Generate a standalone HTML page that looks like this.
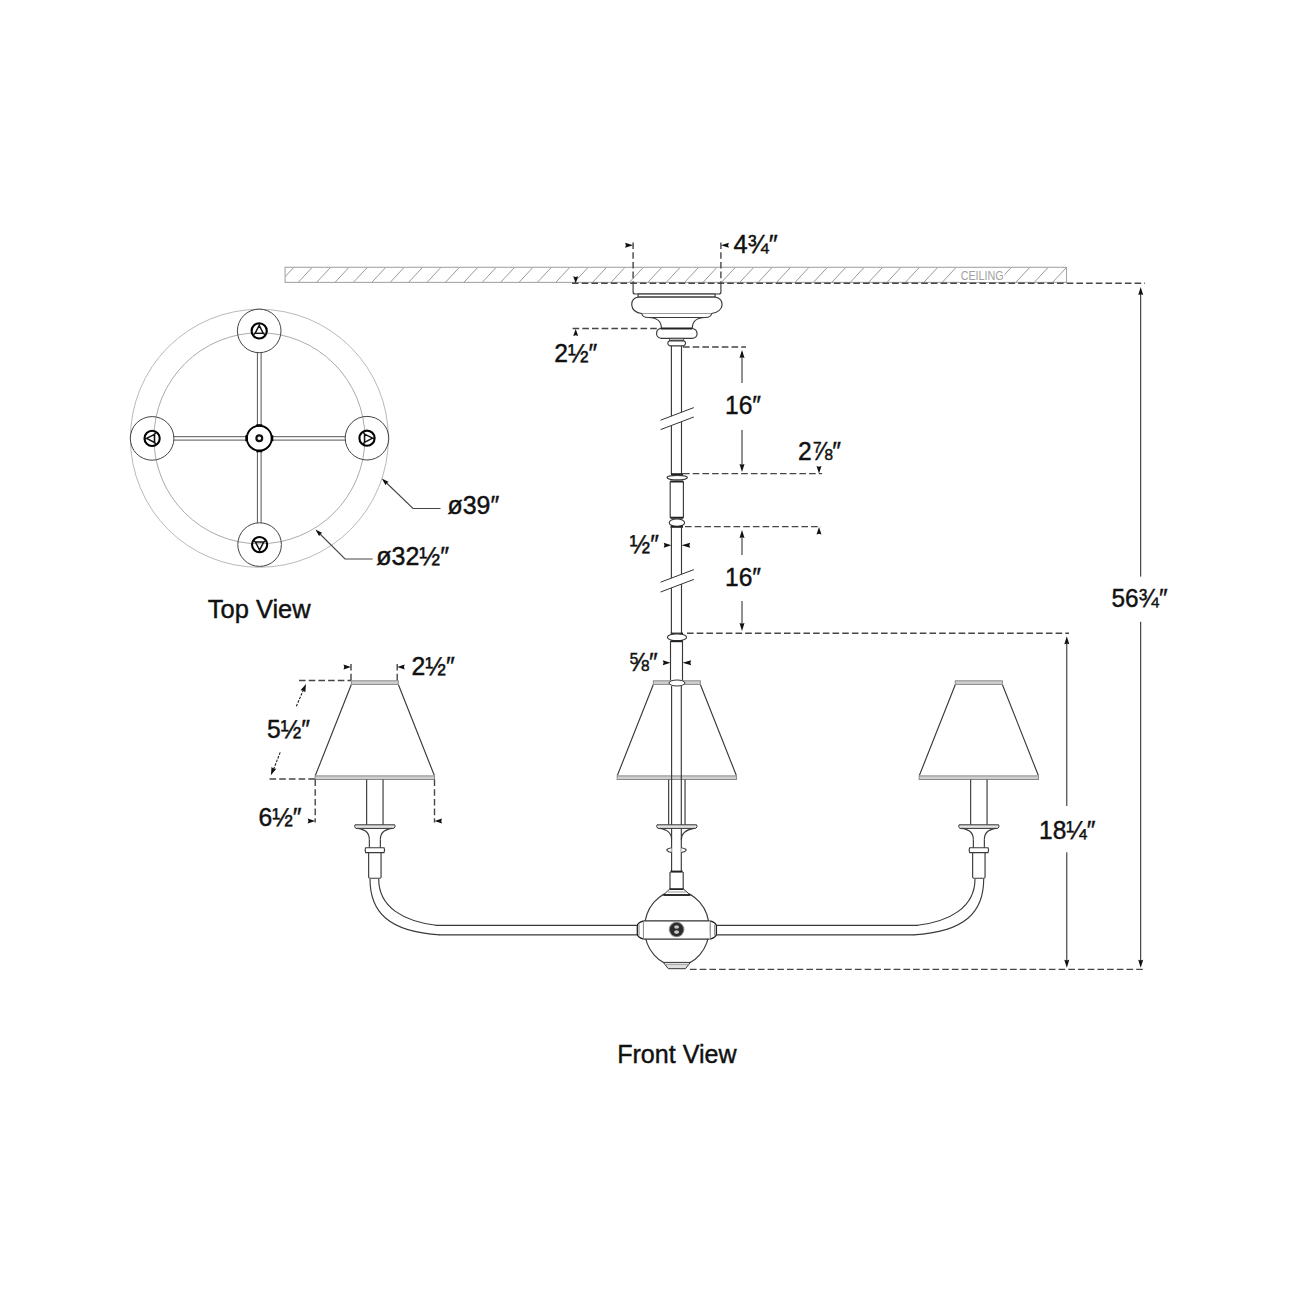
<!DOCTYPE html>
<html><head><meta charset="utf-8">
<style>
html,body{margin:0;padding:0;background:#fff;width:1300px;height:1300px;overflow:hidden}
svg{display:block}
text{font-family:"Liberation Sans",sans-serif;fill:#111;stroke:#111;stroke-width:0.45}
</style></head><body>
<svg width="1300" height="1300" viewBox="0 0 1300 1300">
<rect width="1300" height="1300" fill="#fff"/>

<g id="topview">
<circle cx="259.4" cy="438.3" r="129" fill="none" stroke="#bababa" stroke-width="1"/>
<circle cx="259.4" cy="438.3" r="105.5" fill="none" stroke="#ababab" stroke-width="1"/>
<g stroke="#555" stroke-width="1" fill="none"><path d="M257.4,352.7 V426 M261.1,352.7 V426"/><path d="M257.4,450.5 V522.8 M261.1,450.5 V522.8"/><path d="M173.9,436.7 H247 M173.9,440.1 H247"/><path d="M271.8,436.7 H345.2 M271.8,440.1 H345.2"/></g>
<g transform="translate(259.2,330.9) rotate(0)"><circle r="21.8" fill="none" stroke="#444" stroke-width="1"/><circle r="7.6" fill="none" stroke="#000" stroke-width="2.1"/><path d="M0,-5.6 L-4.1,2.5 L4.1,2.5 Z M0,-5.6 V-7.6 M-4.1,2.5 L-6.3,4.1 M4.1,2.5 L6.3,4.1" fill="none" stroke="#111" stroke-width="1.45" stroke-linejoin="round"/></g>
<g transform="translate(152.1,438.4) rotate(-90)"><circle r="21.8" fill="none" stroke="#444" stroke-width="1"/><circle r="7.6" fill="none" stroke="#000" stroke-width="2.1"/><path d="M0,-5.6 L-4.1,2.5 L4.1,2.5 Z M0,-5.6 V-7.6 M-4.1,2.5 L-6.3,4.1 M4.1,2.5 L6.3,4.1" fill="none" stroke="#111" stroke-width="1.45" stroke-linejoin="round"/></g>
<g transform="translate(367,438.2) rotate(90)"><circle r="21.8" fill="none" stroke="#444" stroke-width="1"/><circle r="7.6" fill="none" stroke="#000" stroke-width="2.1"/><path d="M0,-5.6 L-4.1,2.5 L4.1,2.5 Z M0,-5.6 V-7.6 M-4.1,2.5 L-6.3,4.1 M4.1,2.5 L6.3,4.1" fill="none" stroke="#111" stroke-width="1.45" stroke-linejoin="round"/></g>
<g transform="translate(259.6,544.6) rotate(180)"><circle r="21.8" fill="none" stroke="#444" stroke-width="1"/><circle r="7.6" fill="none" stroke="#000" stroke-width="2.1"/><path d="M0,-5.6 L-4.1,2.5 L4.1,2.5 Z M0,-5.6 V-7.6 M-4.1,2.5 L-6.3,4.1 M4.1,2.5 L6.3,4.1" fill="none" stroke="#111" stroke-width="1.45" stroke-linejoin="round"/></g>
<circle cx="259.3" cy="438.2" r="12.4" fill="#fff" stroke="#000" stroke-width="1.9"/>
<circle cx="259.3" cy="438.2" r="2.9" fill="none" stroke="#111" stroke-width="2.2"/>
<path d="M256.3,424.2 h6 v2.4 h-6 z M256.3,449.8 h6 v2.4 h-6 z M245.3,435.2 v6 h2.4 v-6 z M270.9,435.2 v6 h2.4 v-6 z" fill="#000"/>
<g stroke="#444" stroke-width="1.1" fill="none"><path d="M384,480.5 L413,508.5 H440.5"/><path d="M317.5,531.5 L345,559 H372.6"/></g>
<path d="M0,0 L-7.5,-2.3 L-6.75,0 L-7.5,2.3 Z" transform="translate(381.8,478.4) rotate(224)" fill="#111"/>
<path d="M0,0 L-7.5,-2.3 L-6.75,0 L-7.5,2.3 Z" transform="translate(315.4,529.4) rotate(224)" fill="#111"/>
<text x="447.5" y="514.2" font-size="26.5" textLength="51.7" lengthAdjust="spacingAndGlyphs" >ø39″</text>
<text x="376.3" y="565.2" font-size="26.5" textLength="72.7" lengthAdjust="spacingAndGlyphs" >ø32½″</text>
<text x="207.8" y="617.7" font-size="26.6" textLength="102.8" lengthAdjust="spacingAndGlyphs" >Top View</text>
</g>
<g id="frontview">
<clipPath id="ceilclip"><rect x="285.1" y="267.3" width="781.4" height="15.1"/></clipPath>
<path d="M261.4,282.4 L275.4,267.3 M279.8,282.4 L293.8,267.3 M298.2,282.4 L312.2,267.3 M316.6,282.4 L330.6,267.3 M335.0,282.4 L349.0,267.3 M353.4,282.4 L367.4,267.3 M371.8,282.4 L385.8,267.3 M390.2,282.4 L404.2,267.3 M408.6,282.4 L422.6,267.3 M427.0,282.4 L441.0,267.3 M445.4,282.4 L459.4,267.3 M463.8,282.4 L477.8,267.3 M482.2,282.4 L496.2,267.3 M500.6,282.4 L514.6,267.3 M519.0,282.4 L533.0,267.3 M537.4,282.4 L551.4,267.3 M555.8,282.4 L569.8,267.3 M574.2,282.4 L588.2,267.3 M592.6,282.4 L606.6,267.3 M611.0,282.4 L625.0,267.3 M629.4,282.4 L643.4,267.3 M647.8,282.4 L661.8,267.3 M666.2,282.4 L680.2,267.3 M684.6,282.4 L698.6,267.3 M703.0,282.4 L717.0,267.3 M721.4,282.4 L735.4,267.3 M739.8,282.4 L753.8,267.3 M758.2,282.4 L772.2,267.3 M776.6,282.4 L790.6,267.3 M795.0,282.4 L809.0,267.3 M813.4,282.4 L827.4,267.3 M831.8,282.4 L845.8,267.3 M850.2,282.4 L864.2,267.3 M868.6,282.4 L882.6,267.3 M887.0,282.4 L901.0,267.3 M905.4,282.4 L919.4,267.3 M923.8,282.4 L937.8,267.3 M942.2,282.4 L956.2,267.3 M960.6,282.4 L974.6,267.3 M979.0,282.4 L993.0,267.3 M997.4,282.4 L1011.4,267.3 M1015.8,282.4 L1029.8,267.3 M1034.2,282.4 L1048.2,267.3 M1052.6,282.4 L1066.6,267.3 M1071.0,282.4 L1085.0,267.3" stroke="#9a9a9a" stroke-width="1" clip-path="url(#ceilclip)"/>
<rect x="285.1" y="267.3" width="781.4" height="15.1" fill="none" stroke="#a6a6a6" stroke-width="1.1"/>
<rect x="959.5" y="268" width="45" height="13.8" fill="#fff"/>
<text x="960.7" y="279.5" font-size="12.2" textLength="43" lengthAdjust="spacingAndGlyphs" style="fill:#a0a0a0;stroke:none">CEILING</text>
<path d="M633.1,283 V292 Q633.1,294 635.1,294 H718.9 Q720.9,294 720.9,292 V283" stroke="#3a3a3a" stroke-width="1.15" fill="#fff"/>
<rect x="638.1" y="294" width="77" height="3.1" stroke="#3a3a3a" stroke-width="1.15" fill="#fff"/>
<path d="M638.1,297.1 H715.1 C725,298 725,312 711.6,313.5 H641.7 C629,312 629,298 638.1,297.1 Z" stroke="#3a3a3a" stroke-width="1.15" fill="#fff"/>
<path d="M641.7,313.5 Q642.5,317.5 648,317.5 H705.7 Q711,317.5 711.6,313.5" stroke="#3a3a3a" stroke-width="1.15" fill="#fff"/>
<path d="M648.5,317.5 C656,317.5 661.4,320 661.4,328.5 M705.2,317.5 C697.7,317.5 692.3,320 692.3,328.5" stroke="#3a3a3a" stroke-width="1.15" fill="none"/>
<path d="M660.7,328.5 H692.1 C698,329 699,337 693,338.3 H660.7 C654.7,337 655.7,329 660.7,328.5 Z" stroke="#3a3a3a" stroke-width="1.15" fill="#fff"/>
<path d="M660.7,328.6 H692.1" stroke="#222" stroke-width="2"/>
<rect x="669.6" y="338.3" width="14.1" height="2.6" fill="#b8b8b8" stroke="#444" stroke-width="0.8"/>
<path d="M669.6,340.9 H683.7 C686.2,341.5 686.2,345 683.5,345.8 H669.8 C667.2,345 667.2,341.5 669.6,340.9 Z" stroke="#3a3a3a" stroke-width="1.15" fill="#fff"/>
<path d="M671.4,345.8 V474 M681.5,345.8 V474" stroke="#3a3a3a" stroke-width="1.15" fill="none"/>
<path d="M671,474.2 H683" stroke="#222" stroke-width="2"/>
<ellipse cx="677.2" cy="477.6" rx="10.2" ry="2.3" stroke="#3a3a3a" stroke-width="1.15" fill="#fff"/>
<path d="M670.2,481.5 V517.8 M683.4,481.5 V517.8" stroke="#3a3a3a" stroke-width="1.15" fill="none"/>
<path d="M670.2,481.6 H683.4 M670.2,517.8 H683.4" stroke="#222" stroke-width="2"/>
<ellipse cx="676.9" cy="522.7" rx="7.7" ry="3.8" stroke="#3a3a3a" stroke-width="1.15" fill="#fff"/>
<path d="M670.5,526.8 H683" stroke="#222" stroke-width="2"/>
<path d="M671.4,527 V633 M681.5,527 V633" stroke="#3a3a3a" stroke-width="1.15" fill="none"/>
<path d="M670.8,633.6 H683" stroke="#222" stroke-width="2"/>
<ellipse cx="677" cy="637.3" rx="9.6" ry="3.5" stroke="#3a3a3a" stroke-width="1.15" fill="#fff"/>
<path d="M670.5,641.2 H683" stroke="#222" stroke-width="2"/>
<path d="M670.5,641.2 V680.5 M682.5,641.2 V680.5" stroke="#3a3a3a" stroke-width="1.15" fill="none"/>
<path d="M660.6,420.2 L693.8,407.59999999999997 L693.8,417.0 L660.6,429.6 Z" fill="#fff" stroke="none"/><path d="M660.6,420.2 L693.8,407.59999999999997 M660.6,429.6 L693.8,417.0" stroke="#333" stroke-width="1"/>
<path d="M660.6,582.2 L693.8,569.6 L693.8,579.4 L660.6,592 Z" fill="#fff" stroke="none"/><path d="M660.6,582.2 L693.8,569.6 M660.6,592 L693.8,579.4" stroke="#333" stroke-width="1"/>
<path d="M653.35,684.5 L617.35,775.5 M700.35,684.5 L736.35,775.5" stroke="#3a3a3a" stroke-width="1.15" fill="none"/><rect x="653.35" y="680.8" width="47" height="3.6" fill="#cfcfcf" stroke="#8a8a8a" stroke-width="1"/><rect x="617.15" y="775.9" width="119.4" height="3.6" fill="#cfcfcf" stroke="#8a8a8a" stroke-width="1"/>
<path d="M351.35,684.5 L315.35,775.5 M398.35,684.5 L434.35,775.5" stroke="#3a3a3a" stroke-width="1.15" fill="none"/><rect x="351.35" y="680.8" width="47" height="3.6" fill="#cfcfcf" stroke="#8a8a8a" stroke-width="1"/><rect x="315.15000000000003" y="775.9" width="119.4" height="3.6" fill="#cfcfcf" stroke="#8a8a8a" stroke-width="1"/>
<path d="M955.35,684.5 L919.35,775.5 M1002.35,684.5 L1038.35,775.5" stroke="#3a3a3a" stroke-width="1.15" fill="none"/><rect x="955.35" y="680.8" width="47" height="3.6" fill="#cfcfcf" stroke="#8a8a8a" stroke-width="1"/><rect x="919.15" y="775.9" width="119.4" height="3.6" fill="#cfcfcf" stroke="#8a8a8a" stroke-width="1"/>
<ellipse cx="677" cy="683" rx="8" ry="3" fill="#fff" stroke="#333" stroke-width="1"/>
<path d="M671.6,686 V871.6 M681.3,686 V871.6" stroke="#3a3a3a" stroke-width="1.15" fill="none"/>
<path d="M668.65,779.5 V824.8 M685.0500000000001,779.5 V824.8" stroke="#3a3a3a" stroke-width="1.15" fill="none"/><path d="M657.0500000000001,824.8 H696.65 Q697.85,826.5999999999999 695.85,828.4 H657.85 Q655.85,826.5999999999999 657.0500000000001,824.8 Z" fill="#e2e2e2" stroke="#333" stroke-width="1"/><path d="M659.85,828.4 C667.85,829.8 671.6,832.8 671.6,839.8 M693.85,828.4 C685.85,829.8 681.3,832.8 681.3,839.8" stroke="#3a3a3a" stroke-width="1.15" fill="none"/>
<path d="M671.6,847.8 Q666,849 667,850.5 Q668,852 671.6,852.5 M681.3,847.8 Q687,849 686,850.5 Q685,852 681.3,852.5" stroke="#3a3a3a" stroke-width="1.15" fill="#fff"/>
<path d="M670.4,871.6 H682.7" stroke="#222" stroke-width="2"/>
<path d="M670,872 V889 M683.2,872 V889" stroke="#3a3a3a" stroke-width="1.15" fill="none"/>
<path d="M366.65000000000003,779.5 V824.8 M383.05,779.5 V824.8" stroke="#3a3a3a" stroke-width="1.15" fill="none"/><path d="M355.05,824.8 H394.65000000000003 Q395.85,826.5999999999999 393.85,828.4 H355.85 Q353.85,826.5999999999999 355.05,824.8 Z" fill="#e2e2e2" stroke="#333" stroke-width="1"/><path d="M357.85,828.4 C365.85,829.8 369.35,832.8 369.35,839.8 M391.85,828.4 C383.85,829.8 380.35,832.8 380.35,839.8" stroke="#3a3a3a" stroke-width="1.15" fill="none"/><path d="M365.65000000000003,847.7 H384.05 Q385.25,850.2 384.05,852.6 H365.65000000000003 Q364.45000000000005,850.2 365.65000000000003,847.7 Z" stroke="#3a3a3a" stroke-width="1.15" fill="#fff"/><path d="M369.35,839.8 V847.7 M380.35,839.8 V847.7" stroke="#3a3a3a" stroke-width="1.15" fill="none"/><path d="M368.65000000000003,852.6 V877 Q368.65000000000003,878.2 369.85,878.2 H379.85 Q381.05,878.2 381.05,877 V852.6" stroke="#3a3a3a" stroke-width="1.15" fill="none"/><path d="M370.0,879 C370.0,911.6 388.0,931.8 440.0,934.9 M378.7,879 C378.7,907.7 404.2,921.2 436.0,925.3" stroke="#3a3a3a" stroke-width="1.15" fill="none"/>
<path d="M970.65,779.5 V824.8 M987.0500000000001,779.5 V824.8" stroke="#3a3a3a" stroke-width="1.15" fill="none"/><path d="M959.0500000000001,824.8 H998.65 Q999.85,826.5999999999999 997.85,828.4 H959.85 Q957.85,826.5999999999999 959.0500000000001,824.8 Z" fill="#e2e2e2" stroke="#333" stroke-width="1"/><path d="M961.85,828.4 C969.85,829.8 973.35,832.8 973.35,839.8 M995.85,828.4 C987.85,829.8 984.35,832.8 984.35,839.8" stroke="#3a3a3a" stroke-width="1.15" fill="none"/><path d="M969.65,847.7 H988.0500000000001 Q989.25,850.2 988.0500000000001,852.6 H969.65 Q968.45,850.2 969.65,847.7 Z" stroke="#3a3a3a" stroke-width="1.15" fill="#fff"/><path d="M973.35,839.8 V847.7 M984.35,839.8 V847.7" stroke="#3a3a3a" stroke-width="1.15" fill="none"/><path d="M972.65,852.6 V877 Q972.65,878.2 973.85,878.2 H983.85 Q985.0500000000001,878.2 985.0500000000001,877 V852.6" stroke="#3a3a3a" stroke-width="1.15" fill="none"/><path d="M983.7,879 C983.7,911.6 965.7,931.8 913.7,934.9 M975.0,879 C975.0,907.7 949.5,921.2 917.7,925.3" stroke="#3a3a3a" stroke-width="1.15" fill="none"/>
<path d="M439.5,934.9 H637.5 M435.5,925.3 H637.5 M914.2,934.9 H716.2 M918.2,925.3 H716.2" stroke="#3a3a3a" stroke-width="1.15" fill="none"/>
<ellipse cx="676.85" cy="928.6" rx="32.3" ry="37.3" stroke="#3a3a3a" stroke-width="1.15" fill="#fff"/>
<path d="M669.8,889 L663.3,895 H690.4 L683.4,889 Z" fill="#fff" stroke="#333" stroke-width="1"/>
<path d="M667.5,892 H686.2" stroke="#aaa" stroke-width="1.2"/>
<path d="M669.8,889.2 H683.4" stroke="#222" stroke-width="1.6"/>
<path d="M663.5,895 H690.2" stroke="#222" stroke-width="1.8"/>
<rect x="643.6" y="920.8" width="66.1" height="18.3" stroke="none" fill="#fff"/>
<path d="M643.6,920.8 H709.7 M643.6,939.1 H709.7" stroke="#333" stroke-width="1.2"/>
<path d="M643.6,920.8 C640,921.8 637.3,923.5 637.3,926 V934 C637.3,936.5 640,938.1 643.6,939.1 M710.1,920.8 C713.7,921.8 716.4000000000001,923.5 716.4000000000001,926 V934 C716.4000000000001,936.5 713.7,938.1 710.1,939.1" stroke="#222" stroke-width="1.3" fill="none"/>
<path d="M639,924.5 V935.5 M643.4,921.5 V938.5 M714.7,924.5 V935.5 M710.3000000000001,921.5 V938.5" stroke="#777" stroke-width="0.9"/>
<circle cx="676.6" cy="929.5" r="7.8" fill="#8a8a8a"/><circle cx="676.6" cy="929.5" r="6.7" fill="#2a2a2a"/>
<ellipse cx="676.6" cy="927" rx="2.5" ry="1.7" fill="#c4c4c4"/><ellipse cx="676.6" cy="932.1" rx="2.6" ry="1.8" fill="#c4c4c4"/>
<path d="M663.3,962.4 H690.4 L685.5,968.7 H668.3 Z" fill="#e0e0e0" stroke="#333" stroke-width="1"/>
<path d="M665,964.6 H688.7" stroke="#999" stroke-width="0.8"/>
<path d="M572,283.2 H1145" stroke="#464646" stroke-width="1.4" stroke-dasharray="6.6 3.1" fill="none"/>
<path d="M0,0 L-7,-2.5 L-6.3,0 L-7,2.5 Z" transform="translate(575.7,283.2) rotate(90)" fill="#111"/>
<path d="M572.6,328.5 H660" stroke="#464646" stroke-width="1.4" stroke-dasharray="6.6 3.1" fill="none"/>
<path d="M0,0 L-7,-2.5 L-6.3,0 L-7,2.5 Z" transform="translate(575.7,329) rotate(-90)" fill="#111"/>
<text x="554.2" y="362.3" font-size="26.5" textLength="43" lengthAdjust="spacingAndGlyphs" >2½″</text>
<path d="M633.1,242.5 V283 M720.9,242.5 V283" stroke="#464646" stroke-width="1.4" stroke-dasharray="6.6 3.1" fill="none"/>
<path d="M0,0 L-8,-2.5 L-7.2,0 L-8,2.5 Z" transform="translate(633.1,245.2) rotate(0)" fill="#111"/>
<path d="M0,0 L-8,-2.5 L-7.2,0 L-8,2.5 Z" transform="translate(720.9,245.2) rotate(180)" fill="#111"/>
<text x="733.5" y="253" font-size="26.5" textLength="44.3" lengthAdjust="spacingAndGlyphs" >4¾″</text>
<path d="M683,347 H746" stroke="#464646" stroke-width="1.4" stroke-dasharray="6.6 3.1" fill="none"/>
<path d="M742,352 V383 M742,430 V467" stroke="#222" stroke-width="1" fill="none"/>
<path d="M0,0 L-8,-2.5 L-7.2,0 L-8,2.5 Z" transform="translate(742,350) rotate(-90)" fill="#111"/>
<path d="M0,0 L-8,-2.5 L-7.2,0 L-8,2.5 Z" transform="translate(742,472) rotate(90)" fill="#111"/>
<text x="725" y="414" font-size="26.5" textLength="36" lengthAdjust="spacingAndGlyphs" >16″</text>
<path d="M683,473.6 H822" stroke="#464646" stroke-width="1.4" stroke-dasharray="6.6 3.1" fill="none"/>
<path d="M0,0 L-7.5,-2.5 L-6.75,0 L-7.5,2.5 Z" transform="translate(819,473.6) rotate(90)" fill="#111"/>
<text x="798" y="460" font-size="26.5" textLength="43" lengthAdjust="spacingAndGlyphs" >2⅞″</text>
<path d="M685,526.6 H821" stroke="#464646" stroke-width="1.4" stroke-dasharray="6.6 3.1" fill="none"/>
<path d="M0,0 L-7.5,-2.5 L-6.75,0 L-7.5,2.5 Z" transform="translate(819,527) rotate(-90)" fill="#111"/>
<text x="629.8" y="553.2" font-size="26.5" textLength="29" lengthAdjust="spacingAndGlyphs" >½″</text>
<path d="M0,0 L-7.7,-2.5 L-6.930000000000001,0 L-7.7,2.5 Z" transform="translate(671.4,545.2) rotate(0)" fill="#111"/>
<path d="M0,0 L-8.7,-2.5 L-7.829999999999999,0 L-8.7,2.5 Z" transform="translate(681.5,545.2) rotate(180)" fill="#111"/>
<path d="M742,535 V555 M742,601 V626" stroke="#222" stroke-width="1" fill="none"/>
<path d="M0,0 L-8,-2.5 L-7.2,0 L-8,2.5 Z" transform="translate(742,530) rotate(-90)" fill="#111"/>
<path d="M0,0 L-8,-2.5 L-7.2,0 L-8,2.5 Z" transform="translate(742,631) rotate(90)" fill="#111"/>
<text x="725" y="586" font-size="26.5" textLength="36" lengthAdjust="spacingAndGlyphs" >16″</text>
<path d="M687,633.2 H1069" stroke="#464646" stroke-width="1.4" stroke-dasharray="6.6 3.1" fill="none"/>
<text x="628.6" y="670.8" font-size="26.5" textLength="29" lengthAdjust="spacingAndGlyphs" >⅝″</text>
<path d="M0,0 L-7.7,-2.5 L-6.930000000000001,0 L-7.7,2.5 Z" transform="translate(670.5,662.8) rotate(0)" fill="#111"/>
<path d="M0,0 L-8.7,-2.5 L-7.829999999999999,0 L-8.7,2.5 Z" transform="translate(682.5,662.8) rotate(180)" fill="#111"/>
<path d="M690,969.4 H1145" stroke="#464646" stroke-width="1.4" stroke-dasharray="6.6 3.1" fill="none"/>
<path d="M1066.8,641 V806 M1066.8,852.3 V962" stroke="#222" stroke-width="1" fill="none"/>
<path d="M0,0 L-8,-2.5 L-7.2,0 L-8,2.5 Z" transform="translate(1066.8,636.3) rotate(-90)" fill="#111"/>
<path d="M0,0 L-8,-2.5 L-7.2,0 L-8,2.5 Z" transform="translate(1066.8,967.7) rotate(90)" fill="#111"/>
<text x="1039" y="838.5" font-size="26.5" textLength="56.4" lengthAdjust="spacingAndGlyphs" >18¼″</text>
<path d="M1140.7,292 V576.6 M1140.7,621.8 V962" stroke="#222" stroke-width="1" fill="none"/>
<path d="M0,0 L-8,-2.5 L-7.2,0 L-8,2.5 Z" transform="translate(1140.7,287) rotate(-90)" fill="#111"/>
<path d="M0,0 L-8,-2.5 L-7.2,0 L-8,2.5 Z" transform="translate(1140.7,967.7) rotate(90)" fill="#111"/>
<text x="1111.5" y="607.2" font-size="26.5" textLength="56.1" lengthAdjust="spacingAndGlyphs" >56¾″</text>
<path d="M351,664 V680.5 M397.2,664 V680.5" stroke="#464646" stroke-width="1.4" stroke-dasharray="6.6 3.1" fill="none"/>
<path d="M0,0 L-7.5,-2.5 L-6.75,0 L-7.5,2.5 Z" transform="translate(351,667) rotate(0)" fill="#111"/>
<path d="M0,0 L-7.5,-2.5 L-6.75,0 L-7.5,2.5 Z" transform="translate(397.2,667) rotate(180)" fill="#111"/>
<text x="411.6" y="674.5" font-size="26.5" textLength="43.2" lengthAdjust="spacingAndGlyphs" >2½″</text>
<path d="M299,680.5 H351 M269.5,779 H315" stroke="#464646" stroke-width="1.4" stroke-dasharray="6.6 3.1" fill="none"/>
<path d="M296.3,706.3 L303.6,689.5 M280.2,752.4 L273.3,770" stroke="#222" stroke-width="1.1" stroke-dasharray="2.6 1.3" fill="none"/>
<path d="M0,0 L-8,-2.6 L-7.2,0 L-8,2.6 Z" transform="translate(306,683.9) rotate(-67)" fill="#111"/>
<path d="M0,0 L-8,-2.6 L-7.2,0 L-8,2.6 Z" transform="translate(270.9,775.3) rotate(112)" fill="#111"/>
<text x="267" y="738" font-size="26.5" textLength="43" lengthAdjust="spacingAndGlyphs" >5½″</text>
<path d="M315.2,779.5 V822.6 M434.5,779.5 V822.6" stroke="#464646" stroke-width="1.4" stroke-dasharray="6.6 3.1" fill="none"/>
<path d="M0,0 L-7.5,-2.5 L-6.75,0 L-7.5,2.5 Z" transform="translate(315.2,821) rotate(0)" fill="#111"/>
<path d="M0,0 L-7.5,-2.5 L-6.75,0 L-7.5,2.5 Z" transform="translate(434.5,821) rotate(180)" fill="#111"/>
<text x="258.5" y="826" font-size="26.5" textLength="43.1" lengthAdjust="spacingAndGlyphs" >6½″</text>
<text x="617.2" y="1062.6" font-size="26.6" textLength="119.4" lengthAdjust="spacingAndGlyphs" >Front View</text>
</g>
</svg>
</body></html>
